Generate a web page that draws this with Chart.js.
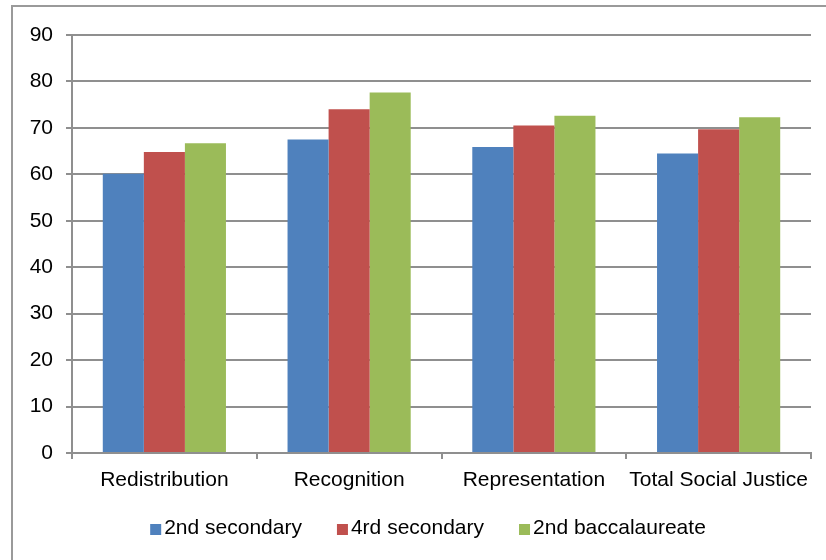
<!DOCTYPE html>
<html>
<head>
<meta charset="utf-8">
<script src="https://cdn.jsdelivr.net/npm/chart.js@4"></script>
<style>
  html, body { margin: 0; padding: 0; background: #fff; }
  #wrap { width: 826px; height: 560px; position: relative; }
</style>
</head>
<body>
<div id="wrap"><canvas id="c" width="826" height="560"></canvas></div>
<script>
// Social justice scores by school year
const categories = ['Redistribution', 'Recognition', 'Representation', 'Total Social Justice'];
const seriesNames = ['2nd secondary', '4rd secondary', '2nd baccalaureate'];
const secondary2 = [60.1, 67.5, 65.9, 64.5];
const secondary4 = [64.8, 74.0, 70.5, 69.7];
const baccalaureate2 = [66.7, 77.6, 72.6, 72.3];
const yTicks = [0, 10, 20, 30, 40, 50, 60, 70, 80, 90];

const colors = ['#4F81BD', '#C0504D', '#9BBB59'];
const FONT = "'Liberation Sans', Arial, sans-serif";
const FONT_SIZE = 21;
const GRID = '#8f8f8f';

// Frame line along the left and top edges
const framePlugin = {
  id: 'frame',
  beforeDraw(chart) {
    const ctx = chart.ctx;
    ctx.save();
    ctx.strokeStyle = '#9a9a9a';
    ctx.lineWidth = 2;
    ctx.beginPath();
    ctx.moveTo(12, 600);
    ctx.lineTo(12, 6);
    ctx.lineTo(900, 6);
    ctx.stroke();
    ctx.restore();
  }
};

// Legend row beneath the axis
const legendPlugin = {
  id: 'rowLegend',
  afterDraw(chart) {
    const ctx = chart.ctx;
    ctx.save();
    ctx.font = FONT_SIZE + 'px ' + FONT;
    ctx.textBaseline = 'middle';
    ctx.textAlign = 'left';
    const box = 11, gapText = 3, gapItem = 35;
    const items = chart.data.datasets.map(ds => ({
      label: ds.label, color: ds.backgroundColor, w: ctx.measureText(ds.label).width
    }));
    const total = items.reduce((s, it) => s + box + gapText + it.w, 0) + gapItem * (items.length - 1);
    let x = 428 - total / 2;
    const cy = 529;
    items.forEach(it => {
      ctx.fillStyle = it.color;
      ctx.fillRect(x, cy - box / 2 + 0.5, box, box);
      ctx.fillStyle = '#000';
      ctx.fillText(it.label, x + box + gapText, cy - 0.5);
      x += box + gapText + it.w + gapItem;
    });
    ctx.restore();
  }
};

new Chart(document.getElementById('c'), {
  type: 'bar',
  data: {
    labels: categories,
    datasets: [
      { label: seriesNames[0], data: secondary2, backgroundColor: colors[0] },
      { label: seriesNames[1], data: secondary4, backgroundColor: colors[1] },
      { label: seriesNames[2], data: baccalaureate2, backgroundColor: colors[2] }
    ]
  },
  options: {
    responsive: false,
    animation: false,
    layout: { padding: { left: 0, top: 35, right: 15, bottom: 0 } },
    datasets: { bar: { categoryPercentage: 3 / 4.5, barPercentage: 1.0 } },
    plugins: { legend: { display: false }, tooltip: { enabled: false } },
    scales: {
      x: {
        grid: { offset: true, drawOnChartArea: false, drawTicks: true, tickLength: 6, color: GRID, lineWidth: 2 },
        border: { color: GRID, width: 2 },
        ticks: { color: '#000', padding: 9, font: { family: FONT, size: FONT_SIZE }, maxRotation: 0, autoSkip: false },
        afterFit(scale) { scale.height = 107; }
      },
      y: {
        min: 0, max: 90,
        afterBuildTicks(scale) { scale.ticks = yTicks.map(v => ({ value: v })); },
        grid: { color: GRID, lineWidth: 2, tickLength: 6, drawTicks: true },
        border: { color: GRID, width: 2 },
        ticks: { color: '#000', padding: 13, font: { family: FONT, size: FONT_SIZE } },
        afterFit(scale) { scale.width = 72; }
      }
    }
  },
  plugins: [framePlugin, legendPlugin]
});
</script>
</body>
</html>
